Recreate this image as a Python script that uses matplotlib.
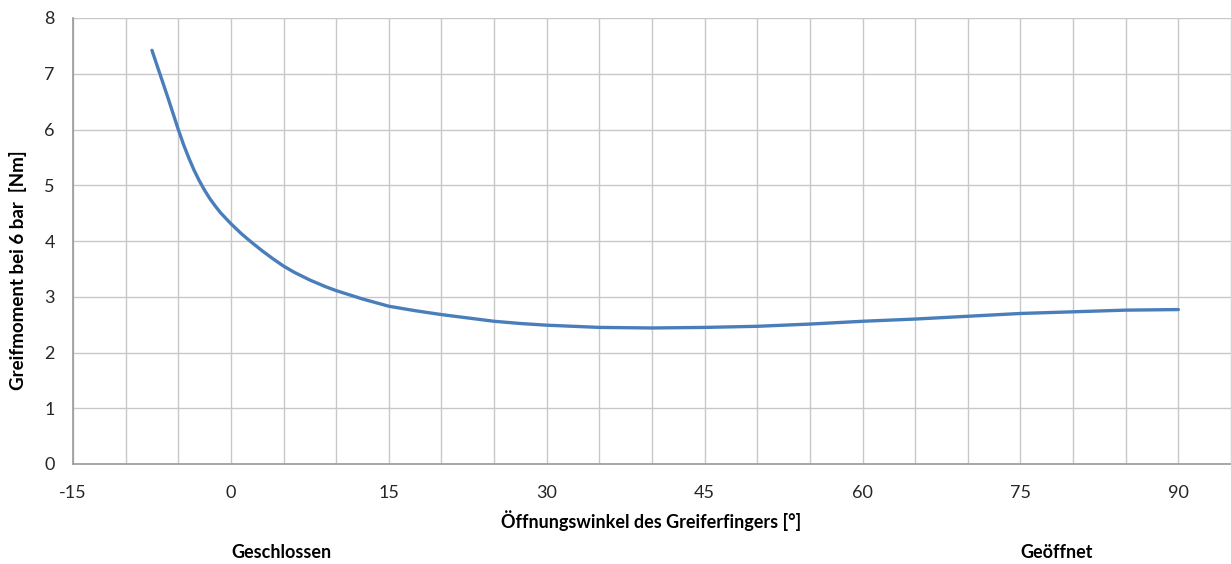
import matplotlib.pyplot as plt
import numpy as np

plt.rcParams['font.family'] = ['Lato', 'DejaVu Sans']
plt.rcParams['axes.unicode_minus'] = False

# Öffnungswinkel [°] und Greifmoment [Nm]
winkel = [-7.5, -7, -6.5, -6, -5.5, -5, -4.5, -4, -3.5, -3, -2.5, -2, -1.5, -1,
          -0.5, 0, 1, 2, 3, 4, 5, 6, 7.5, 9, 10, 12.5, 15, 17.5, 20, 22.5, 25,
          27.5, 30, 35, 40, 45, 50, 55, 60, 65, 70, 75, 80, 85, 90]
moment = [7.42, 7.14, 6.86, 6.58, 6.29, 6.0, 5.73, 5.49, 5.27, 5.08, 4.91, 4.76,
          4.63, 4.51, 4.41, 4.31, 4.13, 3.97, 3.82, 3.68, 3.55, 3.44, 3.30, 3.18,
          3.11, 2.96, 2.83, 2.75, 2.68, 2.62, 2.56, 2.52, 2.49, 2.45, 2.44, 2.45,
          2.47, 2.51, 2.56, 2.6, 2.65, 2.7, 2.73, 2.76, 2.77]

x_major = np.arange(-15, 91, 15)
x_minor = np.arange(-15, 96, 5)
y_ticks = np.arange(0, 9, 1)

blau = "#4a7ebb"
gitter = "#c8c8c8"
achse = "#9a9a9a"
fs = 13

fig = plt.figure(figsize=(12.31, 5.64), dpi=100)
ax = fig.add_axes([73/1231, 100/564, 1 - 73/1231, 446/564])

ax.plot(winkel, moment, color=blau, lw=2.4, solid_capstyle='round',
        solid_joinstyle='round')

ax.set_xlim(-15, 95)
ax.set_ylim(0, 8)
ax.set_xticks(x_major)
ax.set_xticks(x_minor, minor=True)
ax.set_yticks(y_ticks)
ax.tick_params(axis='both', which='both', length=0, labelsize=fs, colors='#262626')
ax.tick_params(axis='x', pad=15)
ax.tick_params(axis='y', pad=13)

ax.grid(which='both', color=gitter, lw=1.0)
ax.set_axisbelow(True)
for s in ['top', 'right']:
    ax.spines[s].set_visible(False)
for s in ['left', 'bottom']:
    ax.spines[s].set_color(achse)
    ax.spines[s].set_linewidth(1.2)

fig.text(18/1231, 1 - 270/564, 'Greifmoment bei 6 bar  [Nm]', rotation=90,
         ha='center', va='center', fontsize=13.5, fontweight='bold')
fig.text(651/1231, 1 - 521/564, 'Öffnungswinkel des Greiferfingers [°]',
         ha='center', va='center', fontsize=13, fontweight='bold')
fig.text(281/1231, 1 - 552/564, 'Geschlossen', ha='center', va='center',
         fontsize=13, fontweight='bold')
fig.text(1057/1231, 1 - 552/564, 'Geöffnet', ha='center', va='center',
         fontsize=13, fontweight='bold')

plt.savefig("out.png", dpi=100)
